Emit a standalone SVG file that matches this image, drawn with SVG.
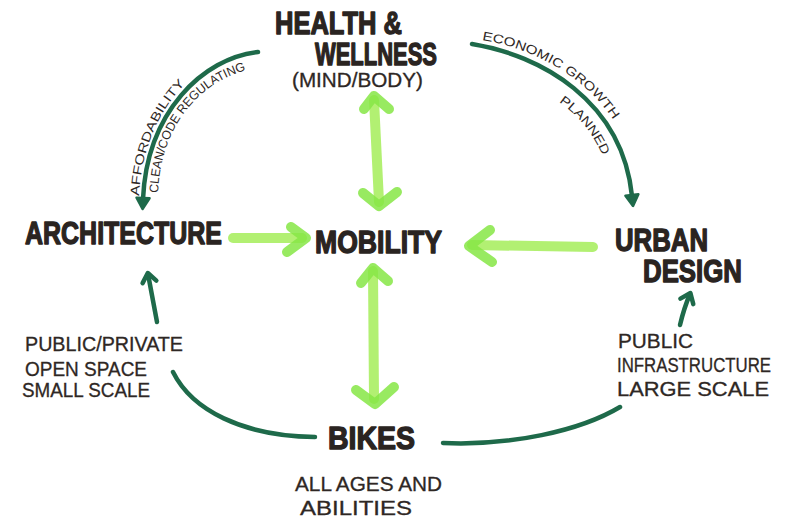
<svg xmlns="http://www.w3.org/2000/svg" xmlns:xlink="http://www.w3.org/1999/xlink" width="785" height="519" viewBox="0 0 785 519">
  <style>
    .node { font-family: "Liberation Sans", Arial, sans-serif; font-weight: bold; font-size: 32px; fill: #2a2421; stroke: #2a2421; stroke-width: 1.4; stroke-linejoin: round; }
    .sub { font-family: "Liberation Sans", Arial, sans-serif; font-size: 20px; fill: #2e2724; stroke: #2e2724; stroke-width: 0.3; }
    .note { font-family: "Liberation Sans", Arial, sans-serif; font-size: 12.5px; fill: #2e2724; }
    .dark { fill: none; stroke: #1e6a4a; stroke-width: 4.5; stroke-linecap: round; stroke-linejoin: round; }
    .shaft { fill: none; stroke: #aeef6a; stroke-width: 10; stroke-linecap: round; opacity: 0.95; }
    .head { fill: none; stroke: #86e645; stroke-width: 10; stroke-linecap: round; stroke-linejoin: round; opacity: 0.85; }
  </style>
  <defs>
    <marker id="tri" markerUnits="userSpaceOnUse" viewBox="-4 -10 20 20" markerWidth="20" markerHeight="20" refX="0" refY="0" orient="auto">
      <path d="M-1,-6.5 L10,0 L-1,6.5 Z" fill="#1e6a4a" stroke="#1e6a4a" stroke-width="2.5" stroke-linejoin="round"/>
    </marker>
    <marker id="chev" markerUnits="userSpaceOnUse" viewBox="-12 -10 20 20" markerWidth="20" markerHeight="20" refX="0" refY="0" orient="auto">
      <path d="M-8,-7 L1,0 L-8,7" fill="none" stroke="#1e6a4a" stroke-width="4.5" stroke-linecap="round" stroke-linejoin="round"/>
    </marker>
    <!-- baselines for the curved annotations -->
    <path id="p-afford" d="M139,196 C143,110 200,53 257,47"/>
    <path id="p-clean" d="M158,193 C161,118 209,73 263,67"/>
    <path id="p-econ" d="M482,40 C546,50 628,96 638,190"/>
    <path id="p-planned" d="M559,102 Q591,124 605,162"/>
  </defs>

  <rect width="785" height="519" fill="#ffffff"/>

  <!-- connectors -->
  <g id="connectors">
    <!-- dark green flows -->
    <path class="dark" d="M258,52 C203,58 147,112 143,199" marker-end="url(#tri)"/>
    <path class="dark" d="M472,44 C540,55 622,100 632,196" marker-end="url(#tri)"/>
    <path class="dark" d="M157,322 L148,274" marker-end="url(#chev)"/>
    <path class="dark" d="M680,325 Q684,308 690,294" marker-end="url(#chev)"/>
    <path class="dark" d="M173,372 C192,410 242,436 315,437"/>
    <path class="dark" d="M443,443 C510,446 580,431 620,407"/>

    <!-- bright green links into MOBILITY -->
    <path class="shaft" d="M374,100 L379,202"/>
    <path class="head" d="M364,109 L374,96 L389,109 M363,193 L379,206 L397,192"/>
    <path class="shaft" d="M233,238 L302,238"/>
    <path class="head" d="M291,227 L306,238 L287,252"/>
    <path class="shaft" d="M593,247 L472,245"/>
    <path class="head" d="M490,230 L469,246 L492,262"/>
    <path class="shaft" d="M373,271 L374,399"/>
    <path class="head" d="M361,283 L373,268 L388,281 M356,390 L375,404 L394,387"/>

    <!-- annotations along the flows -->
    <text class="note"><textPath xlink:href="#p-afford" textLength="124" lengthAdjust="spacingAndGlyphs">AFFORDABILITY</textPath></text>
    <text class="note"><textPath xlink:href="#p-clean" textLength="162" lengthAdjust="spacingAndGlyphs">CLEAN/CODE REGULATING</textPath></text>
    <text class="note"><textPath xlink:href="#p-econ" textLength="158" lengthAdjust="spacingAndGlyphs">ECONOMIC GROWTH</textPath></text>
    <text class="note"><textPath xlink:href="#p-planned" textLength="70" lengthAdjust="spacingAndGlyphs">PLANNED</textPath></text>

    <text class="sub" x="25" y="351" textLength="158" lengthAdjust="spacingAndGlyphs">PUBLIC/PRIVATE</text>
    <text class="sub" x="25" y="376" textLength="122" lengthAdjust="spacingAndGlyphs">OPEN SPACE</text>
    <text class="sub" x="22" y="397" textLength="128" lengthAdjust="spacingAndGlyphs">SMALL SCALE</text>

    <text class="sub" x="618" y="348" textLength="75" lengthAdjust="spacingAndGlyphs">PUBLIC</text>
    <text class="sub" x="617" y="372" font-size="19.5" textLength="154" lengthAdjust="spacingAndGlyphs">INFRASTRUCTURE</text>
    <text class="sub" x="617" y="396" textLength="152" lengthAdjust="spacingAndGlyphs">LARGE SCALE</text>
  </g>

  <!-- nodes -->
  <g id="health">
    <text class="node" x="275" y="34" textLength="127" lengthAdjust="spacingAndGlyphs">HEALTH &amp;</text>
    <text class="node" x="315" y="65" font-size="31" textLength="122" lengthAdjust="spacingAndGlyphs">WELLNESS</text>
    <text class="sub" x="292" y="87" textLength="131" lengthAdjust="spacingAndGlyphs">(MIND/BODY)</text>
  </g>

  <g id="architecture">
    <text class="node" x="25" y="244" textLength="197" lengthAdjust="spacingAndGlyphs">ARCHITECTURE</text>
  </g>

  <g id="mobility">
    <text class="node" x="315" y="253" textLength="127" lengthAdjust="spacingAndGlyphs">MOBILITY</text>
  </g>

  <g id="urban-design">
    <text class="node" x="615" y="251" font-size="31" textLength="93" lengthAdjust="spacingAndGlyphs">URBAN</text>
    <text class="node" x="643" y="282" font-size="31" textLength="99" lengthAdjust="spacingAndGlyphs">DESIGN</text>
  </g>

  <g id="bikes">
    <text class="node" x="328" y="449" textLength="87" lengthAdjust="spacingAndGlyphs">BIKES</text>
    <text class="sub" x="295" y="491" textLength="147" lengthAdjust="spacingAndGlyphs">ALL AGES AND</text>
    <text class="sub" x="300" y="515" textLength="112" lengthAdjust="spacingAndGlyphs">ABILITIES</text>
  </g>
</svg>
